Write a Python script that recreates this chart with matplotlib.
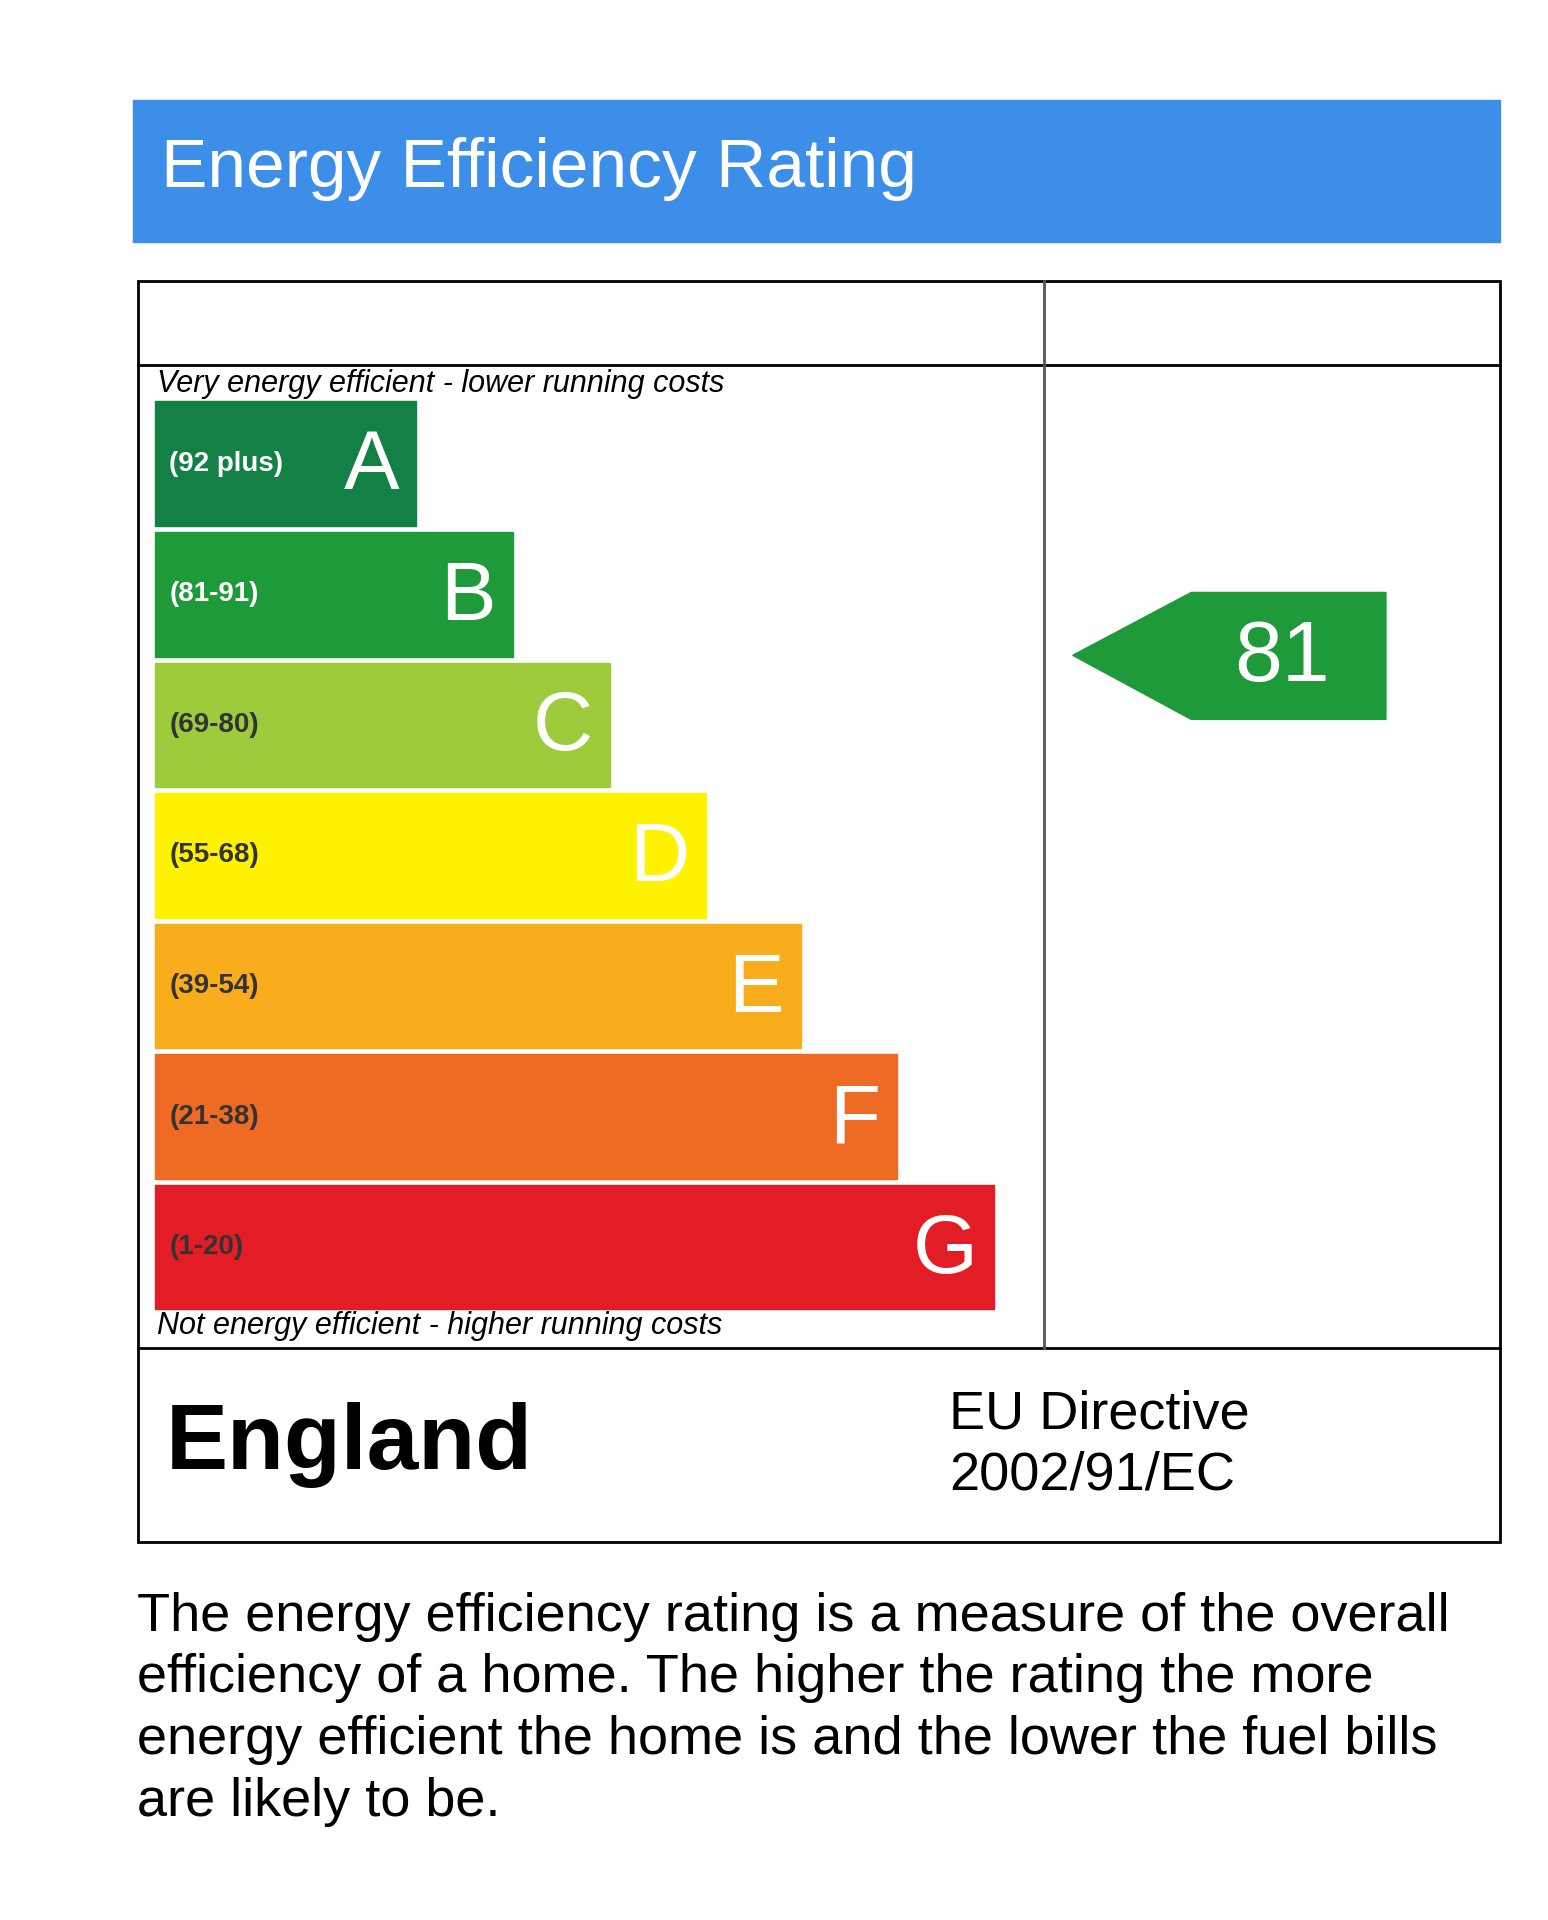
from matplotlib import pyplot as plt
from matplotlib.patches import Rectangle, Polygon

# band data
letters = ["A", "B", "C", "D", "E", "F", "G"]
ranges = ["(92 plus)", "(81-91)", "(69-80)", "(55-68)", "(39-54)", "(21-38)", "(1-20)"]
colors = ["#138045", "#1e9a3a", "#9dcb3c", "#fff200", "#f9ad1c", "#ef6b24", "#e31d25"]
bar_ends = [344, 424, 504, 584, 662, 742, 822]
rating = 81
rating_color = "#1e9a3a"

plt.rcParams['font.family'] = ['Liberation Sans', 'DejaVu Sans']

fig = plt.figure(figsize=(15.48, 19.2), dpi=100)
ax = fig.add_axes([0, 0, 1, 1])
ax.set_xlim(0, 1280)
ax.set_ylim(1588, 0)
ax.axis('off')

# header
ax.add_patch(Rectangle((110, 83), 1130, 117, color="#3d8ee8"))
ax.text(133, 140, "Energy Efficiency Rating", color="white", fontsize=50, va="center")

# frame
ax.add_patch(Rectangle((114, 232), 1126, 1043, fill=False, lw=2, ec="black"))
ax.plot([114, 1240], [302, 302], color="black", lw=2)
ax.plot([114, 1240], [1115, 1115], color="black", lw=2)
ax.plot([863, 863], [232, 1115], color="#555555", lw=2)

ax.text(130, 318, "Very energy efficient - lower running costs", fontsize=22,
        style="italic", va="center")
ax.text(130, 1097, "Not energy efficient - higher running costs", fontsize=22,
        style="italic", va="center")

top = 332
h = 103
step = 108
for i in range(len(letters)):
    y = top + i * step
    ax.add_patch(Rectangle((128, y), bar_ends[i] - 128, h, color=colors[i]))
    ax.text(140, y + h / 2, ranges[i], fontsize=20, va="center", weight="bold",
            color="white" if i < 2 else "#333333")
    ax.text(bar_ends[i] - 14, y + h / 2 + 3, letters[i], fontsize=60, va="center",
            ha="right", color="white")

# current rating arrow
ax.add_patch(Polygon([(887, 542), (985, 490), (1146, 490), (1146, 595), (985, 595)],
                     color=rating_color))
ax.text(1060, 545, str(rating), fontsize=62, color="white", ha="center", va="center")

ax.text(137, 1195, "England", fontsize=67, weight="bold", va="center")
ax.text(785, 1170, "EU Directive", fontsize=39, va="center")
ax.text(785, 1220, "2002/91/EC", fontsize=39, va="center")

lines = ["The energy efficiency rating is a measure of the overall",
         "efficiency of a home. The higher the rating the more",
         "energy efficient the home is and the lower the fuel bills",
         "are likely to be."]
for i, line in enumerate(lines):
    ax.text(113, 1337 + i * 51, line, fontsize=39, va="center")

plt.savefig("out.png", dpi=100, facecolor="white")
